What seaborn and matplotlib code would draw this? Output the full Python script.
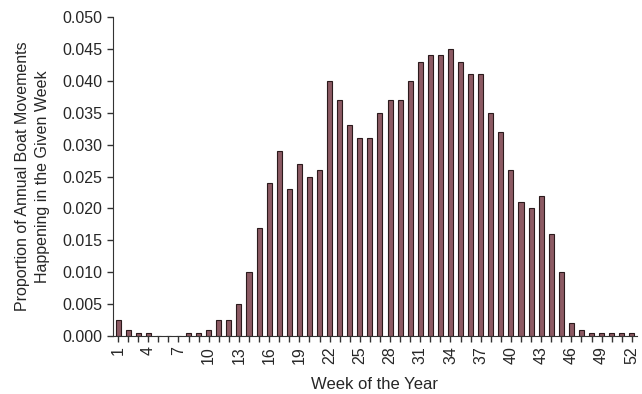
import seaborn as sns
import matplotlib.pyplot as plt
import pandas as pd
import numpy as np

# semanas del año y proporción de movimientos
semanas = list(range(1, 53))
proporcion = [0.0025, 0.001, 0.0005, 0.0005, 0.0, 0.0, 0.0, 0.0005, 0.0005, 0.001,
              0.0025, 0.0025, 0.005, 0.010, 0.017, 0.024, 0.029, 0.023, 0.027, 0.025,
              0.026, 0.040, 0.037, 0.033, 0.031, 0.031, 0.035, 0.037, 0.037, 0.040,
              0.043, 0.044, 0.044, 0.045, 0.043, 0.041, 0.041, 0.035, 0.032, 0.026,
              0.021, 0.020, 0.022, 0.016, 0.010, 0.002, 0.001, 0.0005, 0.0005, 0.0005,
              0.0005, 0.0005]
etiquetas = [str(s) if (s - 1) % 3 == 0 else "" for s in semanas]

datos = pd.DataFrame({"semana": semanas, "proporcion": proporcion})

sns.set_style("ticks")
plt.rcParams['font.family'] = ['Liberation Sans', 'DejaVu Sans']

fig = plt.figure(figsize=(6.42, 3.94), dpi=100)
ax = fig.add_axes([0.176, 0.147, 0.816, 0.81])

sns.barplot(data=datos, x="semana", y="proporcion", color="#8c5a63",
            saturation=1, width=0.5, edgecolor="#2b1a1c", linewidth=0.8, ax=ax)

ax.set_xlim(-0.5, 51.5)
ax.set_ylim(0, 0.05)
ax.set_yticks(np.arange(0, 0.0501, 0.005))
ax.set_yticklabels([f"{v:.3f}" for v in np.arange(0, 0.0501, 0.005)], fontsize=11.5)
ax.set_xticks(range(52))
ax.set_xticklabels(etiquetas, rotation=90, fontsize=11.5)
ax.tick_params(axis="both", direction="out", length=4, width=1, color="#333333")
for s in ["left", "bottom"]:
    ax.spines[s].set_color("#333333")
sns.despine(ax=ax)

ax.set_xlabel("Week of the Year", fontsize=12, labelpad=9)
ax.set_ylabel("Proportion of Annual Boat Movements\nHappening in the Given Week",
              fontsize=11.5, labelpad=9, linespacing=1.45)

plt.savefig("out.png", dpi=100)
